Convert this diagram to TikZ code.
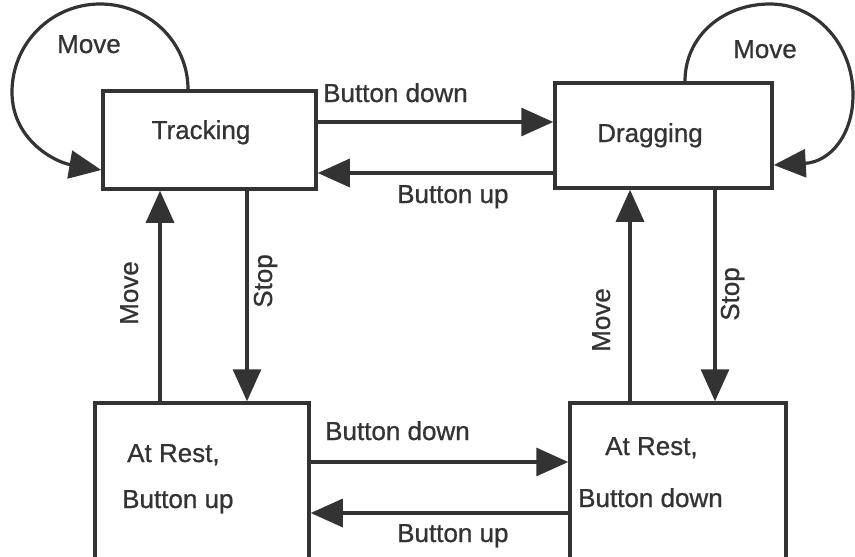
\documentclass[tikz,border=0pt]{standalone}
\usepackage{fontspec}
\setmainfont{Liberation Sans}[FakeBold=0.8]
\usetikzlibrary{arrows.meta}
\definecolor{ink}{HTML}{333333}
\begin{document}
\begin{tikzpicture}[x=1pt,y=-1pt,
  state/.style={draw=ink, line width=3.5pt, inner sep=0pt, rectangle},
  txt/.style={inner sep=0pt, text=ink, font=\fontsize{26}{30}\selectfont},
  arr/.style={draw=ink, line width=3.2pt, -{Triangle[length=32pt,width=28pt]}}]
\useasboundingbox (0,0) rectangle (855,557);
% states
\node[state, minimum width=213pt, minimum height=98pt]  (T)  at (209.5,140)   {};
\node[state, minimum width=217pt, minimum height=105pt] (D)  at (663.5,135.5) {};
\node[state, minimum width=214pt, minimum height=157pt] (RU) at (202,481.5)   {};
\node[state, minimum width=216pt, minimum height=157pt] (RD) at (678,481.5)   {};
% state texts
\node[txt, anchor=base] (tT) at (201,139) {Tracking};
\node[txt, anchor=base] (tD) at (650,142) {Dragging};
\node[txt, anchor=base west] (tRU1) at (127,462) {At Rest,};
\node[txt, anchor=base west] (tRU2) at (122,508) {Button up};
\node[txt, anchor=base west] (tRD1) at (605,455) {At Rest,};
\node[txt, anchor=base west] (tRD2) at (578,507) {Button down};
% horizontal transitions
\draw[arr] ([yshift=18pt]T.east) -- ([yshift=13.5pt]D.west);
\draw[arr] ([yshift=-37.5pt]D.west) -- ([yshift=-33pt]T.east);
\draw[arr] ([yshift=19.5pt]RU.east) -- ([yshift=19.5pt]RD.west);
\draw[arr] ([yshift=-31.5pt]RD.west) -- ([yshift=-31.5pt]RU.east);
\node[txt, anchor=base west] (l1) at (323,102) {Button down};
\node[txt, anchor=base west] (l2) at (397,203) {Button up};
\node[txt, anchor=base west] (l3) at (325,440) {Button down};
\node[txt, anchor=base west] (l4) at (397,542) {Button up};
% vertical transitions
\draw[arr] ([xshift=-42pt]RU.north) -- ([xshift=-49.5pt]T.south);
\draw[arr] ([xshift=37.5pt]T.south) -- ([xshift=45pt]RU.north);
\draw[arr] ([xshift=-48pt]RD.north) -- ([xshift=-33.5pt]D.south);
\draw[arr] ([xshift=51.5pt]D.south) -- ([xshift=37pt]RD.north);
\node[txt, anchor=base, rotate=90] (l5) at (138,293) {Move};
\node[txt, anchor=base, rotate=90] (l6) at (272,281) {Stop};
\node[txt, anchor=base, rotate=90] (l7) at (610,320) {Move};
\node[txt, anchor=base, rotate=90] (l8) at (739,294) {Stop};
% self loops
\draw[arr] ([xshift=-21.5pt]T.north) .. controls (188,42) and (148.6,4) .. (100,4)
   .. controls (51.4,4) and (12,43.4) .. (12,92)
   .. controls (12,140) and (55,162) .. ([yshift=-30pt]T.west);
\draw[arr] ([xshift=21.5pt]D.north) .. controls (685,36) and (723,4) .. (770,4)
   .. controls (817,4) and (853,45) .. (853,95)
   .. controls (853,135) and (830,162) .. ([yshift=-29.5pt]D.east);
\node[txt, anchor=base west] (l9) at (57,53) {Move};
\node[txt, anchor=base west] (l10) at (733,58) {Move};
\end{tikzpicture}
\end{document}
